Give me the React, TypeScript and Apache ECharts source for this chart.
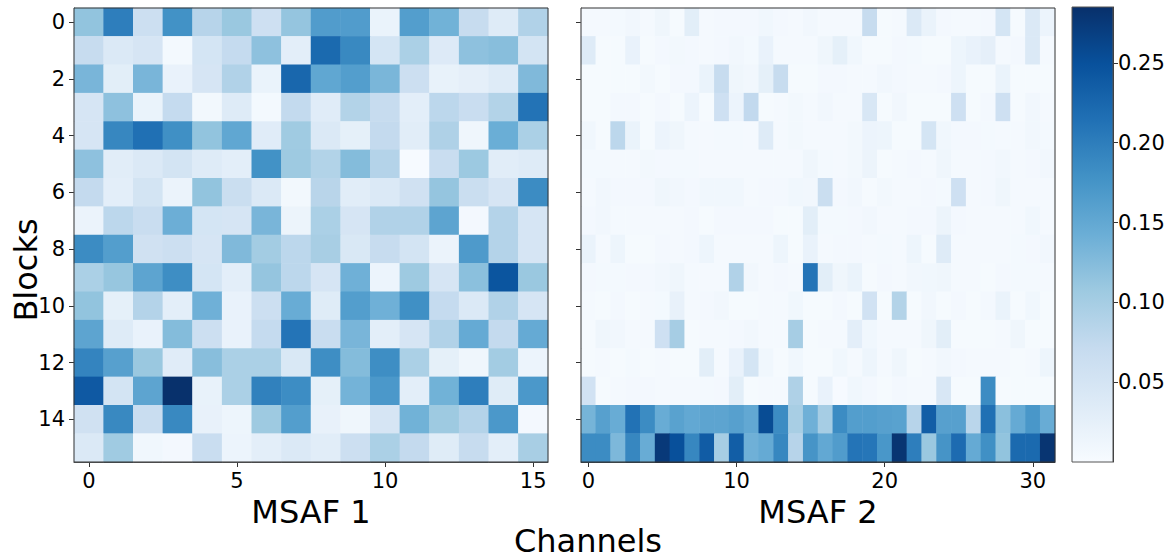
import React, { useEffect, useRef } from "react";
import * as echarts from "echarts";

// ---------- data ----------
const blockLabels = ["0","1","2","3","4","5","6","7","8","9","10","11","12","13","14","15"];
const msaf1Channels = ["0","1","2","3","4","5","6","7","8","9","10","11","12","13","14","15"];
const msaf2Channels = [
  "0","1","2","3","4","5","6","7","8","9","10","11","12","13","14","15",
  "16","17","18","19","20","21","22","23","24","25","26","27","28","29","30","31",
];
const colorbarTicks = [0.05, 0.1, 0.15, 0.2, 0.25];
const colorMin = 0;
const colorMax = 0.285;
const bluesPalette = ["#f7fbff","#deebf7","#c6dbef","#9ecae1","#6baed6","#4292c6","#2171b5","#08519c","#08306b"];

// MSAF 1: 16 blocks x 16 channels
const msaf1 = [
  [0.115,0.200,0.062,0.178,0.085,0.110,0.060,0.113,0.165,0.165,0.018,0.163,0.138,0.070,0.035,0.090],
  [0.070,0.040,0.048,0.005,0.050,0.072,0.118,0.028,0.222,0.188,0.050,0.095,0.037,0.118,0.122,0.052],
  [0.133,0.030,0.133,0.020,0.048,0.090,0.018,0.225,0.152,0.163,0.132,0.063,0.021,0.026,0.035,0.128],
  [0.048,0.118,0.018,0.072,0.007,0.036,0.005,0.074,0.033,0.088,0.070,0.028,0.080,0.067,0.088,0.212],
  [0.048,0.190,0.215,0.180,0.115,0.152,0.033,0.105,0.040,0.025,0.073,0.032,0.092,0.012,0.143,0.095],
  [0.118,0.032,0.040,0.052,0.036,0.028,0.178,0.107,0.089,0.125,0.087,0.002,0.067,0.108,0.032,0.036],
  [0.073,0.028,0.052,0.017,0.115,0.065,0.040,0.007,0.083,0.032,0.040,0.057,0.113,0.065,0.048,0.185],
  [0.017,0.080,0.067,0.142,0.050,0.048,0.133,0.016,0.095,0.048,0.090,0.090,0.155,0.006,0.087,0.048],
  [0.185,0.163,0.057,0.062,0.048,0.128,0.102,0.080,0.098,0.043,0.070,0.052,0.017,0.168,0.087,0.048],
  [0.095,0.112,0.155,0.182,0.050,0.028,0.113,0.080,0.048,0.140,0.015,0.107,0.048,0.120,0.245,0.110],
  [0.115,0.025,0.087,0.028,0.140,0.020,0.062,0.145,0.034,0.163,0.140,0.180,0.072,0.040,0.090,0.048],
  [0.155,0.036,0.020,0.125,0.062,0.020,0.072,0.210,0.067,0.133,0.028,0.048,0.090,0.148,0.073,0.148],
  [0.193,0.160,0.110,0.033,0.122,0.095,0.095,0.043,0.182,0.125,0.182,0.095,0.025,0.012,0.102,0.015],
  [0.240,0.052,0.155,0.284,0.021,0.095,0.196,0.183,0.025,0.136,0.170,0.028,0.138,0.200,0.034,0.170],
  [0.057,0.188,0.067,0.188,0.022,0.014,0.107,0.163,0.022,0.012,0.048,0.138,0.107,0.087,0.170,0.006],
  [0.040,0.105,0.010,0.006,0.067,0.015,0.028,0.040,0.032,0.062,0.095,0.073,0.034,0.070,0.028,0.098],
];

// MSAF 2: 16 blocks x 32 channels
const msaf2 = [
  [0.004,0.004,0.005,0.008,0.004,0.012,0.003,0.030,0.004,0.006,0.006,0.006,0.010,0.006,0.004,0.008,0.004,0.004,0.004,0.070,0.003,0.004,0.040,0.018,0.006,0.004,0.004,0.006,0.050,0.003,0.040,0.015],
  [0.035,0.003,0.003,0.020,0.003,0.006,0.007,0.006,0.004,0.006,0.008,0.005,0.020,0.004,0.004,0.004,0.012,0.025,0.010,0.003,0.003,0.006,0.005,0.003,0.003,0.014,0.020,0.026,0.004,0.006,0.040,0.004],
  [0.003,0.003,0.003,0.003,0.007,0.003,0.006,0.006,0.018,0.070,0.012,0.008,0.025,0.070,0.003,0.003,0.006,0.006,0.004,0.004,0.008,0.006,0.004,0.004,0.006,0.014,0.003,0.003,0.018,0.003,0.003,0.003],
  [0.003,0.003,0.006,0.006,0.003,0.006,0.003,0.015,0.003,0.060,0.015,0.075,0.003,0.004,0.007,0.004,0.008,0.004,0.004,0.045,0.003,0.008,0.003,0.003,0.003,0.060,0.003,0.006,0.060,0.003,0.008,0.004],
  [0.010,0.003,0.080,0.018,0.003,0.015,0.012,0.004,0.004,0.005,0.005,0.004,0.035,0.004,0.007,0.004,0.004,0.004,0.007,0.015,0.014,0.003,0.003,0.050,0.010,0.006,0.006,0.005,0.004,0.004,0.008,0.005],
  [0.005,0.005,0.004,0.004,0.007,0.006,0.005,0.005,0.004,0.004,0.004,0.004,0.004,0.004,0.004,0.012,0.005,0.004,0.007,0.016,0.003,0.004,0.006,0.004,0.012,0.004,0.004,0.006,0.008,0.004,0.006,0.008],
  [0.004,0.008,0.006,0.006,0.006,0.012,0.008,0.006,0.010,0.010,0.010,0.004,0.006,0.006,0.010,0.008,0.065,0.006,0.008,0.003,0.007,0.004,0.004,0.006,0.005,0.060,0.004,0.006,0.012,0.004,0.004,0.004],
  [0.006,0.008,0.004,0.004,0.004,0.004,0.004,0.006,0.003,0.006,0.006,0.006,0.006,0.003,0.003,0.030,0.005,0.005,0.006,0.008,0.004,0.004,0.006,0.006,0.016,0.006,0.004,0.004,0.004,0.004,0.010,0.004],
  [0.018,0.004,0.014,0.003,0.003,0.006,0.004,0.006,0.014,0.004,0.004,0.004,0.004,0.014,0.003,0.020,0.004,0.006,0.006,0.004,0.005,0.004,0.014,0.003,0.035,0.004,0.004,0.004,0.004,0.005,0.006,0.008],
  [0.006,0.005,0.005,0.006,0.006,0.008,0.012,0.004,0.004,0.004,0.090,0.008,0.004,0.006,0.004,0.210,0.030,0.012,0.018,0.003,0.006,0.004,0.008,0.010,0.012,0.004,0.004,0.003,0.006,0.005,0.005,0.004],
  [0.004,0.003,0.006,0.003,0.004,0.005,0.022,0.004,0.006,0.008,0.003,0.003,0.004,0.004,0.010,0.003,0.003,0.006,0.003,0.055,0.003,0.088,0.003,0.008,0.003,0.006,0.003,0.006,0.018,0.003,0.010,0.003],
  [0.003,0.012,0.008,0.004,0.004,0.060,0.100,0.003,0.004,0.004,0.006,0.008,0.004,0.004,0.100,0.003,0.004,0.004,0.028,0.010,0.004,0.004,0.004,0.012,0.030,0.003,0.003,0.003,0.004,0.012,0.003,0.003],
  [0.003,0.004,0.003,0.005,0.003,0.004,0.003,0.003,0.030,0.004,0.020,0.050,0.010,0.003,0.010,0.003,0.003,0.010,0.004,0.014,0.004,0.012,0.003,0.004,0.008,0.006,0.004,0.004,0.004,0.003,0.004,0.014],
  [0.055,0.003,0.004,0.006,0.006,0.004,0.004,0.004,0.005,0.006,0.030,0.003,0.004,0.004,0.092,0.003,0.020,0.002,0.010,0.006,0.003,0.006,0.004,0.004,0.045,0.003,0.003,0.185,0.003,0.003,0.003,0.003],
  [0.135,0.160,0.145,0.213,0.185,0.145,0.158,0.150,0.155,0.155,0.160,0.150,0.255,0.185,0.098,0.140,0.100,0.185,0.163,0.163,0.160,0.158,0.085,0.235,0.160,0.160,0.082,0.215,0.120,0.148,0.172,0.145],
  [0.185,0.185,0.130,0.190,0.145,0.275,0.250,0.190,0.237,0.100,0.235,0.140,0.148,0.190,0.085,0.175,0.150,0.165,0.210,0.208,0.172,0.280,0.200,0.110,0.175,0.220,0.148,0.180,0.115,0.222,0.222,0.280],
];

// ---------- helpers ----------
const toCells = (m: number[][]) =>
  m.flatMap((row, y) => row.map((v, x) => [x, y, v]));

const FONT = "DejaVu Sans";
const TICK_FONT = 21;
const lineStyle = { color: "#333333", width: 1 };

const App = () => {
  const ref = useRef<HTMLDivElement>(null);

  useEffect(() => {
    if (!ref.current) return;
    const chart = echarts.init(ref.current, null, { renderer: "svg" });

    const xAxisBase = {
      type: "category",
      nameLocation: "middle",
      nameGap: 31,
      nameTextStyle: { fontSize: 32, color: "#000", fontFamily: FONT },
      axisLine: { show: true, lineStyle },
      axisLabel: { fontSize: TICK_FONT, color: "#000", margin: 8, fontFamily: FONT },
      splitLine: { show: false },
      splitArea: { show: false },
    };
    const yAxisBase = {
      type: "category",
      inverse: true,
      data: blockLabels,
      axisLine: { show: true, lineStyle },
      axisTick: { show: true, interval: 1, alignWithLabel: true, length: 5, lineStyle },
      splitLine: { show: false },
      splitArea: { show: false },
    };

    const option: any = {
      animation: false,
      textStyle: { fontFamily: FONT },
      grid: [
        { left: 74, top: 8, width: 474, height: 454 },
        { left: 581, top: 8, width: 474, height: 454 },
        { left: 1072, top: 7, width: 41, height: 455 },
      ],
      xAxis: [
        {
          ...xAxisBase,
          gridIndex: 0,
          data: msaf1Channels,
          name: "MSAF 1",
          axisTick: { show: true, interval: 4, alignWithLabel: true, length: 5, lineStyle },
          axisLabel: { ...xAxisBase.axisLabel, interval: 4 },
        },
        {
          ...xAxisBase,
          gridIndex: 1,
          data: msaf2Channels,
          name: "MSAF 2",
          axisTick: { show: true, interval: 9, alignWithLabel: true, length: 5, lineStyle },
          axisLabel: { ...xAxisBase.axisLabel, interval: 9 },
        },
        { type: "category", gridIndex: 2, data: ["cb"], show: false },
      ],
      yAxis: [
        {
          ...yAxisBase,
          gridIndex: 0,
          axisLabel: { interval: 1, fontSize: TICK_FONT, color: "#000", margin: 9, fontFamily: FONT },
        },
        {
          ...yAxisBase,
          gridIndex: 1,
          axisLabel: { show: false, interval: 1 },
        },
        {
          type: "value",
          gridIndex: 2,
          min: colorMin,
          max: colorMax,
          position: "right",
          axisLine: { show: true, lineStyle },
          axisTick: { show: true, length: 5, lineStyle, customValues: colorbarTicks },
          axisLabel: {
            customValues: colorbarTicks,
            fontSize: TICK_FONT,
            color: "#000",
            margin: 5,
            fontFamily: FONT,
            formatter: (v: number) => v.toFixed(2),
          },
          splitLine: { show: false },
        },
      ],
      visualMap: {
        type: "continuous",
        show: false,
        min: colorMin,
        max: colorMax,
        dimension: 2,
        seriesIndex: [0, 1],
        inRange: { color: bluesPalette },
      },
      series: [
        {
          type: "heatmap",
          xAxisIndex: 0,
          yAxisIndex: 0,
          data: toCells(msaf1),
          itemStyle: { borderWidth: 0 },
          emphasis: { disabled: true },
        },
        {
          type: "heatmap",
          xAxisIndex: 1,
          yAxisIndex: 1,
          data: toCells(msaf2),
          itemStyle: { borderWidth: 0 },
          emphasis: { disabled: true },
        },
        {
          type: "bar",
          xAxisIndex: 2,
          yAxisIndex: 2,
          data: [colorMax],
          barWidth: "100%",
          itemStyle: {
            color: new echarts.graphic.LinearGradient(
              0, 0, 0, 1,
              bluesPalette
                .slice()
                .reverse()
                .map((c, i, arr) => ({ offset: i / (arr.length - 1), color: c }))
            ),
          },
          emphasis: { disabled: true },
          silent: true,
        },
      ],
      graphic: [
        {
          type: "rect",
          z: 100,
          silent: true,
          shape: { x: 74, y: 8, width: 474, height: 454 },
          style: { fill: "transparent", stroke: "#333333", lineWidth: 1 },
        },
        {
          type: "rect",
          z: 100,
          silent: true,
          shape: { x: 581, y: 8, width: 474, height: 454 },
          style: { fill: "transparent", stroke: "#333333", lineWidth: 1 },
        },
        {
          type: "rect",
          z: 100,
          silent: true,
          shape: { x: 1072, y: 7, width: 41, height: 455 },
          style: { fill: "transparent", stroke: "#555555", lineWidth: 1 },
        },
        {
          type: "text",
          x: 26,
          y: 270,
          rotation: Math.PI / 2,
          style: {
            text: "Blocks",
            fontSize: 32,
            lineHeight: 32,
            fontFamily: FONT,
            fill: "#000",
            align: "center",
            verticalAlign: "middle",
          },
        },
        {
          type: "text",
          x: 588,
          y: 541,
          style: {
            text: "Channels",
            fontSize: 32,
            lineHeight: 32,
            fontFamily: FONT,
            fill: "#000",
            align: "center",
            verticalAlign: "middle",
          },
        },
      ],
    };

    chart.setOption(option);
    return () => chart.dispose();
  }, []);

  return (
    <div
      ref={ref}
      style={{ position: "absolute", left: 0, top: 0, width: 1174, height: 559, background: "#fff" }}
    />
  );
};

export default App;
